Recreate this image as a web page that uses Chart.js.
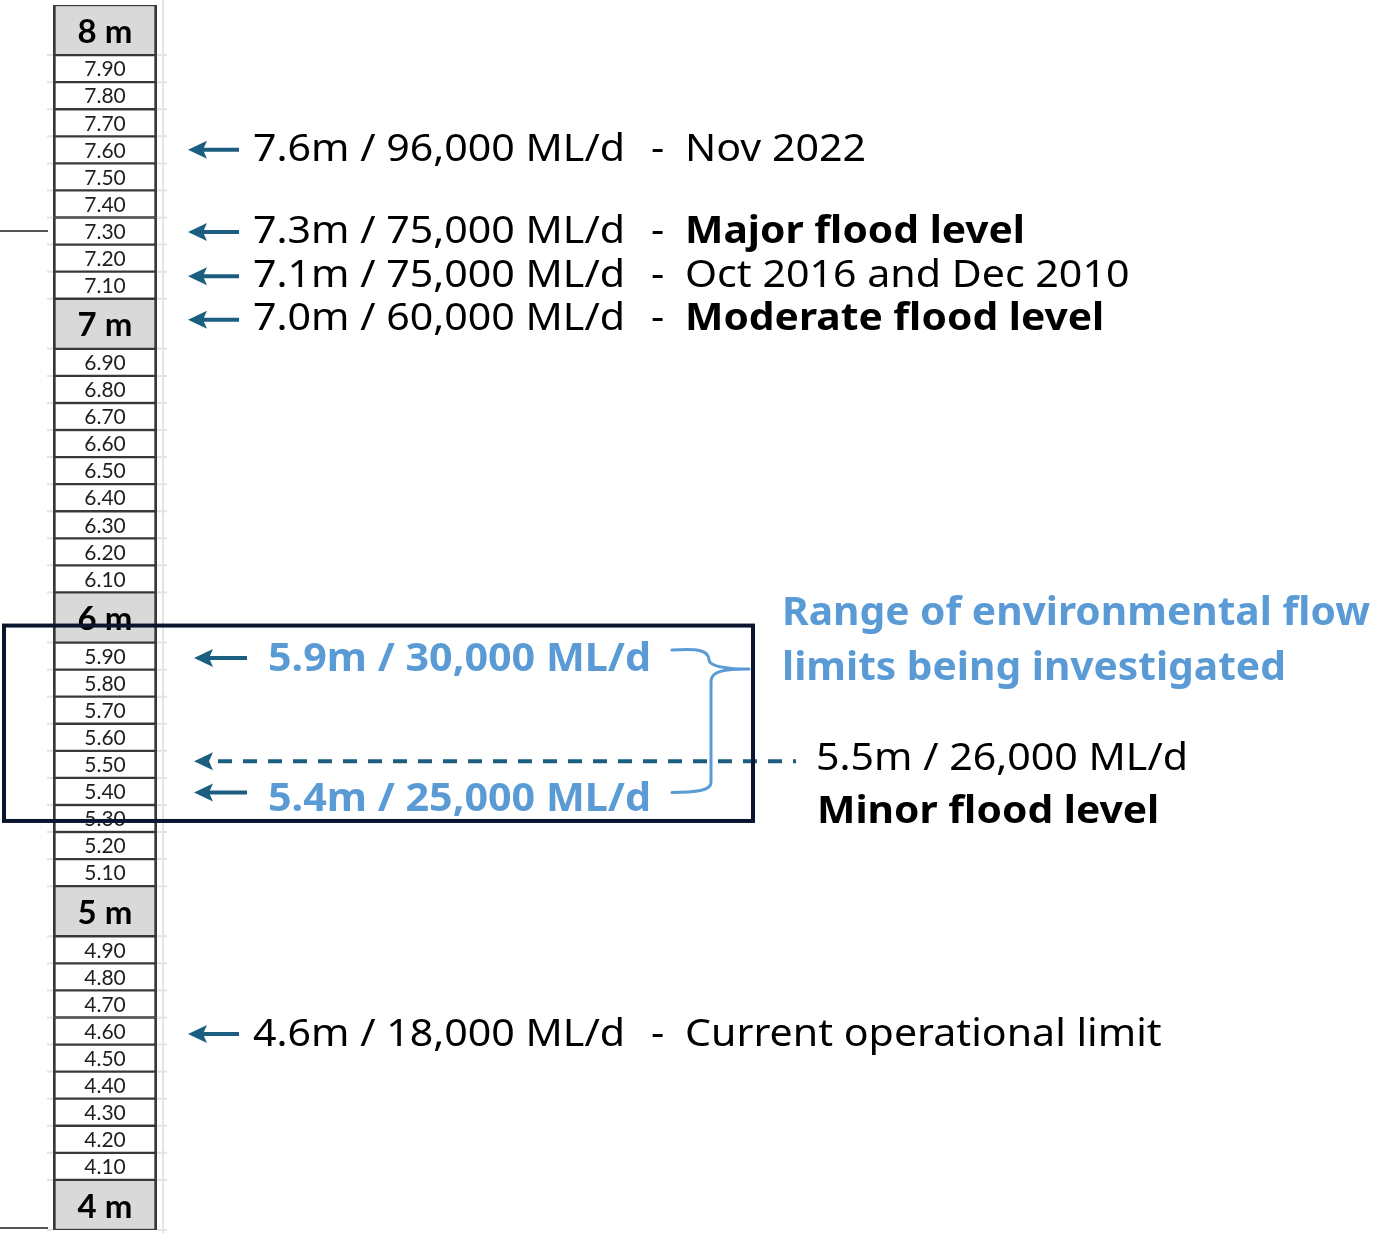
<!DOCTYPE html>
<html>
<head>
<meta charset="utf-8">
<script src="https://cdn.jsdelivr.net/npm/chart.js@4.4.1/dist/chart.umd.min.js"></script>
<style>
  html, body { margin: 0; padding: 0; background: #ffffff; }
  canvas { display: block; }
</style>
</head>
<body>
<canvas id="gauge" width="1378" height="1233"></canvas>
<script>
// gauge board, top to bottom
const staffLabels = ['8 m', '7.90', '7.80', '7.70', '7.60', '7.50', '7.40', '7.30', '7.20', '7.10',
  '7 m', '6.90', '6.80', '6.70', '6.60', '6.50', '6.40', '6.30', '6.20', '6.10',
  '6 m', '5.90', '5.80', '5.70', '5.60', '5.50', '5.40', '5.30', '5.20', '5.10',
  '5 m', '4.90', '4.80', '4.70', '4.60', '4.50', '4.40', '4.30', '4.20', '4.10', '4 m'];

// marked river heights (m) and flows (ML/d)
const gaugeLevels = [7.6, 7.3, 7.1, 7.0, 5.9, 5.5, 5.4, 4.6];
const gaugeFlows = [96000, 75000, 75000, 60000, 30000, 26000, 25000, 18000];
const gaugeNotes = ['Nov 2022', 'Major flood level', 'Oct 2016 and Dec 2010', 'Moderate flood level',
  '', 'Minor flood level', '', 'Current operational limit'];
const noteKinds = ['event', 'major', 'event', 'moderate', 'env', 'minor', 'env', 'limit'];

const envRange = [5.9, 5.4];
const envTitle = ['Range of environmental flow', 'limits being investigated'];

// layout only
const MAJOR_H = 50 / 27;
const arrowNudge = [0, 1, -9, -4, 2, -3, 1, 3];
const textNudge = [-3, -3, -3, -3, -1, -5, 5, -2];
const ARROW_COL = '#1c5e80';
const BLUE = '#5b9bd5';
const NAVY = '#0b1530';

const staffLevels = staffLabels.map(s => parseFloat(s));
const isMajor = staffLabels.map(s => s.endsWith(' m'));
const totalUnits = isMajor.reduce((a, m) => a + (m ? MAJOR_H : 1), 0);

// stacked from the bottom, so reverse
const rowOrder = staffLabels.map((_, i) => i).reverse();
const datasets = rowOrder.map(i => ({
  label: staffLabels[i],
  data: [isMajor[i] ? MAJOR_H : 1],
  backgroundColor: isMajor[i] ? '#d9d9d9' : '#ffffff',
  borderColor: '#383838',
  borderWidth: { left: 3, right: 3, top: 1.5, bottom: 1.5 },
  borderSkipped: false,
  barPercentage: 1,
  categoryPercentage: 1
}));

const rowBox = (chart, level) => {
  const idx = staffLevels.findIndex(v => Math.abs(v - level) < 1e-6);
  const ds = staffLabels.length - 1 - idx;
  const el = chart.getDatasetMeta(ds).data[0];
  return { top: el.y, bottom: el.base, cy: (el.y + el.base) / 2, x: el.x };
};

const fitText = (ctx, text, x, cy, font, color, scaleX, size) => {
  ctx.save();
  ctx.font = font;
  ctx.fillStyle = color;
  ctx.textBaseline = 'alphabetic';
  ctx.translate(x, cy + size * 0.36);
  ctx.scale(scaleX, 1);
  ctx.fillText(text, 0, 0);
  ctx.restore();
};

const scaleFor = (ctx, font, ref, width) => {
  ctx.save();
  ctx.font = font;
  const w = ctx.measureText(ref).width;
  ctx.restore();
  return width / w;
};

const drawArrow = (ctx, tip, end, y, dashed) => {
  ctx.save();
  ctx.strokeStyle = ARROW_COL;
  ctx.fillStyle = ARROW_COL;
  ctx.lineWidth = 4;
  if (dashed) ctx.setLineDash([14, 11]);
  ctx.beginPath();
  ctx.moveTo(tip + (dashed ? 24 : 14), y);
  ctx.lineTo(end, y);
  ctx.stroke();
  ctx.setLineDash([]);
  ctx.beginPath();
  ctx.moveTo(tip, y);
  ctx.lineTo(tip + 19, y - 9);
  ctx.lineTo(tip + 15, y);
  ctx.lineTo(tip + 19, y + 9);
  ctx.closePath();
  ctx.fill();
  ctx.restore();
};

const sheetBackdrop = {
  id: 'sheetBackdrop',
  beforeDatasetsDraw(chart) {
    const ctx = chart.ctx;
    const a = chart.chartArea;
    ctx.save();
    ctx.strokeStyle = '#e3e3e3';
    ctx.lineWidth = 2;
    ctx.beginPath();
    ctx.moveTo(a.right + 6, 0);
    ctx.lineTo(a.right + 6, chart.height);
    ctx.stroke();
    staffLevels.forEach(lv => {
      const r = rowBox(chart, lv);
      ctx.beginPath();
      ctx.moveTo(a.left - 6, r.bottom);
      ctx.lineTo(a.left, r.bottom);
      ctx.moveTo(a.right, r.bottom);
      ctx.lineTo(a.right + 10, r.bottom);
      ctx.stroke();
    });
    ctx.strokeStyle = '#555555';
    ctx.lineWidth = 2;
    const r73 = rowBox(chart, 7.3);
    ctx.beginPath();
    ctx.moveTo(0, r73.cy);
    ctx.lineTo(a.left - 5, r73.cy);
    ctx.moveTo(0, a.bottom - 2);
    ctx.lineTo(a.left - 5, a.bottom - 2);
    ctx.stroke();
    ctx.restore();
  }
};

const staffText = {
  id: 'staffText',
  afterDatasetsDraw(chart) {
    const ctx = chart.ctx;
    ctx.save();
    ctx.textAlign = 'center';
    ctx.textBaseline = 'middle';
    staffLabels.forEach((lab, i) => {
      const r = rowBox(chart, staffLevels[i]);
      if (isMajor[i]) {
        ctx.font = '700 33px Lato';
        ctx.fillStyle = '#000000';
        ctx.fillText(lab, r.x, r.cy + 2);
      } else {
        ctx.font = '21px Lato';
        ctx.fillStyle = '#1e1e1e';
        ctx.fillText(lab, r.x, r.cy + 1);
      }
    });
    ctx.restore();
  }
};

const levelNotes = {
  id: 'levelNotes',
  afterDraw(chart) {
    const ctx = chart.ctx;
    const reg = '400 38px "Noto Sans"';
    const bold = '700 38px "Noto Sans"';
    const blue = '700 39px "Noto Sans"';
    const env = '700 40px "Noto Sans"';
    const sReg = scaleFor(ctx, reg, '7.6m / 96,000 ML/d', 372);
    const sBold = scaleFor(ctx, bold, 'Major flood level', 340);
    const sBlue = scaleFor(ctx, blue, '5.9m / 30,000 ML/d', 383);
    const sEnv = scaleFor(ctx, env, envTitle[0], 588);

    const ys = [];
    gaugeLevels.forEach((lv, i) => {
      const y = rowBox(chart, lv).cy + arrowNudge[i];
      ys.push(y);
      const ty = y + textNudge[i];
      const label = lv.toFixed(1) + 'm / ' + gaugeFlows[i].toLocaleString('en-US') + ' ML/d';
      const kind = noteKinds[i];
      if (kind === 'env') {
        drawArrow(ctx, 194, 247, y, false);
        fitText(ctx, label, 268, ty, blue, BLUE, sBlue, 39);
      } else if (kind === 'minor') {
        drawArrow(ctx, 194, 796, y, true);
        fitText(ctx, label, 816, ty, reg, '#000000', sReg, 38);
        fitText(ctx, gaugeNotes[i], 817, ty + 53, bold, '#000000', sBold, 38);
      } else {
        drawArrow(ctx, 188, 239, y, false);
        fitText(ctx, label, 253, ty, reg, '#000000', sReg, 38);
        fitText(ctx, '-', 651, ty, reg, '#000000', sReg, 38);
        const isBold = kind === 'major' || kind === 'moderate';
        fitText(ctx, gaugeNotes[i], 685, ty, isBold ? bold : reg, '#000000', isBold ? sBold : sReg, 38);
      }
    });

    // environmental flow box
    const topRow = rowBox(chart, envRange[0]);
    const botRow = rowBox(chart, envRange[1]);
    const yTop = ys[gaugeLevels.indexOf(envRange[0])] - 8;
    const yBot = ys[gaugeLevels.indexOf(envRange[1])];
    const yTip = yTop + 19;

    ctx.save();
    ctx.strokeStyle = BLUE;
    ctx.lineWidth = 3;
    ctx.lineCap = 'round';
    ctx.beginPath();
    ctx.moveTo(672, yTop);
    ctx.bezierCurveTo(700, yTop - 2, 709, yTop + 1, 709, yTop + 10);
    ctx.bezierCurveTo(710, yTip - 2, 730, yTip, 749, yTip);
    ctx.moveTo(749, yTip);
    ctx.bezierCurveTo(724, yTip, 711, yTip + 2, 711, yTip + 12);
    ctx.lineTo(711, yBot - 10);
    ctx.bezierCurveTo(711, yBot - 1, 692, yBot, 672, yBot);
    ctx.stroke();
    ctx.restore();

    ctx.save();
    ctx.strokeStyle = NAVY;
    ctx.lineWidth = 4;
    const bTop = topRow.top - 17;
    const bBot = botRow.bottom + 16;
    ctx.strokeRect(4, bTop, 749, bBot - bTop);
    ctx.restore();

    fitText(ctx, envTitle[0], 782, 611, env, BLUE, sEnv, 40);
    fitText(ctx, envTitle[1], 782, 666, env, BLUE, sEnv, 40);
  }
};

new Chart(document.getElementById('gauge'), {
  type: 'bar',
  data: { labels: ['gauge'], datasets: datasets },
  options: {
    responsive: false,
    animation: false,
    devicePixelRatio: 1,
    layout: { padding: { left: 53, right: 1378 - 157, top: 5, bottom: 3 } },
    scales: {
      x: { stacked: true, display: false },
      y: { stacked: true, display: false, min: 0, max: totalUnits }
    },
    plugins: { legend: { display: false }, tooltip: { enabled: false } }
  },
  plugins: [sheetBackdrop, staffText, levelNotes]
});
</script>
</body>
</html>
